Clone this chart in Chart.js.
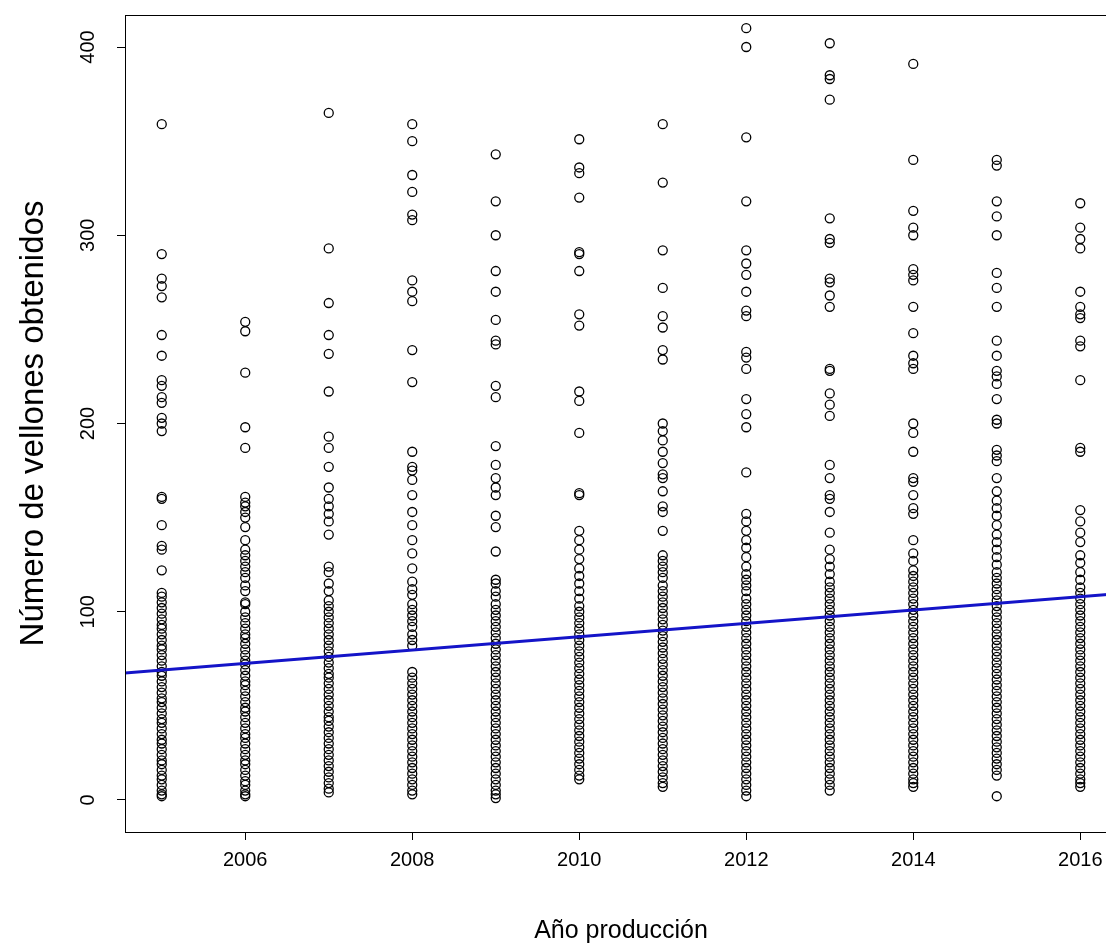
<!DOCTYPE html>
<html>
<head>
    <meta charset="utf-8">
    <title>Número de vellones por año</title>
    <script src="https://cdn.jsdelivr.net/npm/chart.js"></script>
    <style>
        html, body {
            margin: 0;
            padding: 0;
            background: #fff;
            overflow: hidden;
        }
        .chart-wrap {
            width: 1106px;
            height: 951px;
            overflow: hidden;
        }
    </style>
</head>
<body>
<div class="chart-wrap">
    <canvas id="vellones_chart" width="1130" height="951"></canvas>
</div>

<script>
// años de producción
const years = [2005, 2006, 2007, 2008, 2009, 2010, 2011, 2012, 2013, 2014, 2015, 2016];

// número de vellones obtenidos, por año
const v2005 = [359, 290, 277, 273, 267, 247, 236, 223, 220, 214, 211, 203, 200, 196, 161, 160, 146, 135, 133, 122, 110, 108,
    105, 102, 99, 96, 93, 91, 88, 85, 82, 80, 77, 74, 71, 68, 66, 63, 60, 57, 54, 52, 49, 46, 43, 41, 38, 35, 32, 30, 27, 24, 21, 19, 16, 13, 11, 8, 5, 3, 2];
const v2006 = [254, 249, 227, 198, 187, 161, 158, 156, 153, 150, 145, 138, 133, 130, 127, 124, 121, 118, 114, 111, 105, 104,
    100, 97, 94, 91, 88, 86, 83, 80, 77, 74, 72, 69, 66, 63, 61, 58, 55, 52, 49, 47, 44, 41, 38, 35, 33, 30, 27, 24, 21, 19, 16, 13, 10, 8, 5, 3, 2];
const v2007 = [365, 293, 264, 247, 237, 217, 193, 187, 177, 166, 160, 156, 152, 148, 141, 124, 121, 115, 111, 106, 103,
    100, 97, 94, 91, 88, 85, 82, 79, 76, 73, 70, 67, 65, 62, 59, 56, 53, 50, 47, 44, 42, 39, 36, 33, 30, 27, 24, 21, 18, 15, 12, 9, 6, 4];
const v2008 = [359, 350, 332, 323, 311, 308, 276, 270, 265, 239, 222, 185, 177, 175, 170, 162, 153, 146, 138, 131, 123, 116, 112, 109,
    104, 101, 98, 95, 92, 88, 85, 82, 68, 65, 62, 59, 56, 53, 50, 47, 44, 41, 38, 35, 32, 29, 26, 23, 20, 17, 14, 11, 8, 5, 3];
const v2009 = [343, 318, 300, 281, 270, 255, 244, 242, 220, 214, 188, 178, 171, 166, 162, 151, 145, 132, 117, 115, 111, 108,
    104, 101, 98, 95, 92, 89, 86, 83, 80, 77, 74, 71, 68, 65, 62, 59, 56, 53, 50, 47, 44, 41, 38, 35, 32, 29, 26, 23, 20, 17, 14, 11, 8, 5, 3, 1];
const v2010 = [351, 336, 333, 320, 291, 290, 281, 258, 252, 217, 212, 195, 163, 162, 143, 138, 133, 128, 123, 119, 115, 111, 107,
    103, 100, 97, 94, 91, 88, 85, 82, 79, 76, 73, 70, 67, 64, 61, 58, 55, 52, 49, 46, 43, 40, 37, 34, 31, 28, 25, 22, 19, 16, 13, 11];
const v2011 = [359, 328, 292, 272, 257, 251, 239, 234, 200, 196, 191, 185, 179, 173, 171, 164, 156, 153, 143, 130, 127, 124, 121, 118,
    114, 111, 108, 105, 102, 99, 96, 93, 90, 87, 84, 81, 78, 75, 72, 69, 66, 63, 60, 57, 54, 51, 48, 45, 42, 39, 36, 33, 30, 27, 24, 21, 18, 15, 12, 9, 7];
const v2012 = [410, 400, 352, 318, 292, 285, 279, 270, 260, 257, 238, 235, 229, 213, 205, 198, 174, 152, 148, 143, 138, 134, 129, 124,
    120, 117, 114, 111, 107, 104, 101, 98, 95, 92, 89, 86, 83, 80, 77, 74, 71, 68, 65, 62, 59, 56, 53, 50, 47, 44, 41, 38, 35, 32, 29, 26, 23, 20, 17, 14, 11, 8, 5, 2];
const v2013 = [402, 385, 383, 372, 309, 298, 296, 277, 275, 268, 262, 229, 228, 216, 210, 204, 178, 171, 162, 160, 153, 142, 133, 128,
    124, 120, 116, 113, 110, 107, 104, 101, 98, 95, 92, 89, 86, 83, 80, 77, 74, 71, 68, 65, 62, 59, 56, 53, 50, 47, 44, 41, 38, 35, 32, 29, 26, 23, 20, 17, 14, 11, 8, 5];
const v2014 = [391, 340, 313, 304, 300, 282, 279, 276, 262, 248, 236, 232, 229, 200, 195, 185, 171, 169, 162, 155, 152, 138, 131, 127,
    122, 119, 116, 113, 110, 107, 104, 101, 98, 95, 92, 89, 86, 83, 80, 77, 74, 71, 68, 65, 62, 59, 56, 53, 50, 47, 44, 41, 38, 35, 32, 29, 26, 23, 20, 17, 14, 11, 9, 7];
const v2015 = [340, 337, 318, 310, 300, 280, 272, 262, 244, 236, 228, 225, 221, 213, 202, 200, 186, 183, 180, 171, 164, 159, 155, 151, 146, 141, 137, 133,
    129, 125, 121, 118, 115, 112, 109, 106, 103, 100, 97, 94, 91, 88, 85, 82, 79, 76, 73, 70, 67, 64, 61, 58, 55, 52, 49, 46, 43, 40, 37, 34, 31, 28, 25, 22, 19, 16, 13, 2];
const v2016 = [317, 304, 298, 293, 270, 262, 258, 256, 244, 241, 223, 187, 185, 154, 148, 142, 137, 130, 126, 121, 117, 113,
    110, 107, 104, 101, 98, 95, 92, 89, 86, 83, 80, 77, 74, 71, 68, 65, 62, 59, 56, 53, 50, 47, 44, 41, 38, 35, 32, 29, 26, 23, 20, 17, 14, 11, 9, 7];

const valuesByYear = [v2005, v2006, v2007, v2008, v2009, v2010, v2011, v2012, v2013, v2014, v2015, v2016];

// recta de regresión (extremos fuera del área, se recorta)
const fitYears = [2004, 2017];
const fitValues = [65.5, 111.5];

// marcas de los ejes
const xTickValues = [2006, 2008, 2010, 2012, 2014, 2016];
const yTickValues = [0, 100, 200, 300, 400];

const points = [];
years.forEach((yr, i) => {
    valuesByYear[i].forEach(v => points.push({ x: yr, y: v }));
});
const fitLine = fitYears.map((yr, i) => ({ x: yr, y: fitValues[i] }));

// caja alrededor del área del gráfico, como en R
const boxPlugin = {
    id: 'box',
    afterDraw(chart) {
        const a = chart.chartArea;
        const ctx = chart.ctx;
        ctx.save();
        ctx.strokeStyle = '#000';
        ctx.lineWidth = 1;
        ctx.strokeRect(a.left + 0.5, a.top + 0.5, a.right - a.left, a.bottom - a.top);
        ctx.restore();
    }
};

const fam = "'Liberation Sans', Arial, sans-serif";
const axisFont = { family: fam, size: 20 };

const ctx = document.getElementById('vellones_chart').getContext('2d');
new Chart(ctx, {
    type: 'scatter',
    data: {
        datasets: [{
            data: points,
            showLine: false,
            pointStyle: 'circle',
            pointRadius: 4.5,
            pointHoverRadius: 4.5,
            pointBorderWidth: 1.3,
            borderColor: '#000',
            backgroundColor: 'rgba(0,0,0,0)',
            order: 2
        }, {
            type: 'line',
            data: fitLine,
            borderColor: '#1414c8',
            borderWidth: 3,
            pointRadius: 0,
            fill: false,
            order: 1
        }]
    },
    options: {
        responsive: false,
        animation: false,
        layout: {
            padding: { left: 0, top: 15, right: 13, bottom: 0 }
        },
        scales: {
            x: {
                type: 'linear',
                min: 2004.56,
                max: 2016.44,
                afterBuildTicks: s => { s.ticks = xTickValues.map(v => ({ value: v })); },
                afterFit: s => { s.height = 119; s.paddingLeft = 0; s.paddingRight = 0; },
                grid: { drawOnChartArea: false, tickLength: 8, color: '#000' },
                border: { display: true, color: '#000' },
                ticks: {
                    color: '#000',
                    font: axisFont,
                    padding: 8,
                    maxRotation: 0,
                    callback: v => String(v)
                },
                title: {
                    display: true,
                    text: 'Año producción',
                    color: '#000',
                    font: { family: fam, size: 25 },
                    padding: { top: 0, bottom: 5 }
                }
            },
            y: {
                type: 'linear',
                min: -17,
                max: 417,
                afterBuildTicks: s => { s.ticks = yTickValues.map(v => ({ value: v })); },
                afterFit: s => { s.width = 125; s.paddingTop = 0; s.paddingBottom = 0; },
                grid: { drawOnChartArea: false, tickLength: 8, color: '#000' },
                border: { display: true, color: '#000' },
                ticks: {
                    color: '#000',
                    font: axisFont,
                    padding: 12,
                    minRotation: 90,
                    maxRotation: 90,
                    crossAlign: 'center',
                    callback: v => String(v)
                },
                title: {
                    display: true,
                    text: 'Número de vellones obtenidos',
                    color: '#000',
                    font: { family: fam, size: 33 },
                    padding: { top: 14, bottom: 0 }
                }
            }
        },
        plugins: {
            legend: { display: false },
            tooltip: { enabled: false }
        }
    },
    plugins: [boxPlugin]
});
</script>
</body>
</html>
